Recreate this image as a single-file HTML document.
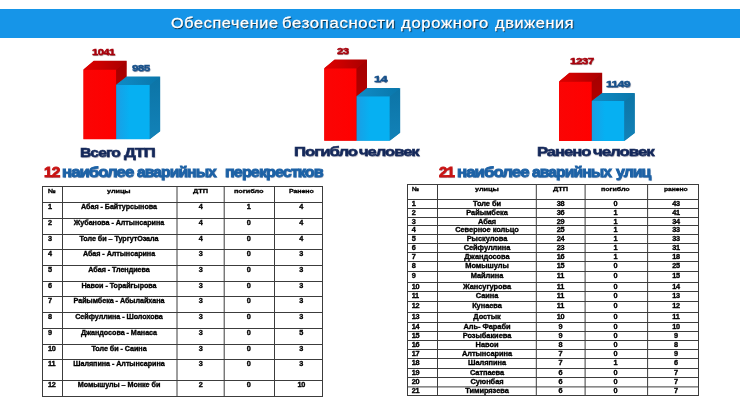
<!DOCTYPE html>
<html lang="ru"><head><meta charset="utf-8"><title>Обеспечение безопасности дорожного движения</title>
<style>
html,body{margin:0;padding:0;background:#fff;}
body{width:740px;height:416px;position:relative;overflow:hidden;font-family:"Liberation Sans",sans-serif;}
.abs{position:absolute;}
.t{position:absolute;line-height:1;white-space:nowrap;filter:blur(0.3px);}
svg{filter:blur(0.3px);}
.c{letter-spacing:-0.05px;}
.n{letter-spacing:-0.3px;}
</style></head><body>
<div class="abs" style="left:0;top:9px;width:740px;height:29.2px;background:#1695e8"></div>
<div class="t " style="left:171.41px;top:15.00px;font-size:15px;color:#fff;font-weight:normal;letter-spacing:0.6px;text-shadow:0.8px 1px 1px rgba(0,0,0,.8);-webkit-text-stroke:0.3px #fff;transform:scaleX(1.0794);transform-origin:left top;">Обеспечение</div>
<div class="t " style="left:282.48px;top:15.00px;font-size:15px;color:#fff;font-weight:normal;letter-spacing:0.6px;text-shadow:0.8px 1px 1px rgba(0,0,0,.8);-webkit-text-stroke:0.3px #fff;transform:scaleX(1.1136);transform-origin:left top;">безопасности</div>
<div class="t " style="left:400.86px;top:15.00px;font-size:15px;color:#fff;font-weight:normal;letter-spacing:0.6px;text-shadow:0.8px 1px 1px rgba(0,0,0,.8);-webkit-text-stroke:0.3px #fff;transform:scaleX(1.1098);transform-origin:left top;">дорожного</div>
<div class="t " style="left:494.95px;top:15.00px;font-size:15px;color:#fff;font-weight:normal;letter-spacing:0.6px;text-shadow:0.8px 1px 1px rgba(0,0,0,.8);-webkit-text-stroke:0.3px #fff;transform:scaleX(1.0846);transform-origin:left top;">движения</div>
<svg class="abs" width="740" height="416" viewBox="0 0 740 416" style="left:0;top:0"><defs><linearGradient id="rt" x1="0" y1="0" x2="1" y2="0"><stop offset="0" stop-color="#e00000"/><stop offset="1" stop-color="#a80000"/></linearGradient><linearGradient id="rs" x1="0" y1="0" x2="0" y2="1"><stop offset="0" stop-color="#a40000"/><stop offset="1" stop-color="#c40000"/></linearGradient><linearGradient id="rf" x1="0" y1="0" x2="1" y2="0"><stop offset="0" stop-color="#fa0505"/><stop offset="1" stop-color="#ff0000"/></linearGradient><linearGradient id="bt" x1="0" y1="0" x2="1" y2="0"><stop offset="0" stop-color="#0f8cc6"/><stop offset="1" stop-color="#0a76aa"/></linearGradient><linearGradient id="bs" x1="0" y1="0" x2="0" y2="1"><stop offset="0" stop-color="#0c74a6"/><stop offset="1" stop-color="#1282b8"/></linearGradient><linearGradient id="bf" x1="0" y1="0" x2="1" y2="0"><stop offset="0" stop-color="#1a9ee4"/><stop offset="0.4" stop-color="#06b0f2"/><stop offset="1" stop-color="#06b0f2"/></linearGradient></defs><polygon points="83.7,139.0 83.7,69.5 93.80000000000001,61.099999999999994 126.30000000000001,61.099999999999994 126.30000000000001,130.60000000000002 116.2,139.0" fill="#c00000"/><polygon points="83.4,69.5 116.2,69.5 116.2,139.3 83.4,139.3" fill="url(#rf)"/><polygon points="116.2,69.5 126.60000000000001,60.8 126.60000000000001,130.60000000000002 116.2,139.3" fill="url(#rs)"/><polygon points="83.4,69.5 93.80000000000001,60.8 126.60000000000001,60.8 116.2,69.5" fill="url(#rt)"/><polygon points="116.5,139.0 116.5,84.7 126.60000000000001,76.9 159.9,76.9 159.9,131.20000000000002 149.8,139.0" fill="#0e7cb0"/><polygon points="116.2,84.7 149.8,84.7 149.8,139.3 116.2,139.3" fill="url(#bf)"/><polygon points="149.8,84.7 160.20000000000002,76.60000000000001 160.20000000000002,131.20000000000002 149.8,139.3" fill="url(#bs)"/><polygon points="116.2,84.7 126.60000000000001,76.60000000000001 160.20000000000002,76.60000000000001 149.8,84.7" fill="url(#bt)"/><polygon points="324.5,140.5 324.5,68.3 334.59999999999997,59.89999999999999 366.7,59.89999999999999 366.7,132.10000000000002 356.6,140.5" fill="#c00000"/><polygon points="324.2,68.3 356.6,68.3 356.6,140.8 324.2,140.8" fill="url(#rf)"/><polygon points="356.6,68.3 367.0,59.599999999999994 367.0,132.10000000000002 356.6,140.8" fill="url(#rs)"/><polygon points="324.2,68.3 334.59999999999997,59.599999999999994 367.0,59.599999999999994 356.6,68.3" fill="url(#rt)"/><polygon points="356.90000000000003,140.5 356.90000000000003,96.2 367.0,88.4 399.9,88.4 399.9,132.70000000000002 389.8,140.5" fill="#0e7cb0"/><polygon points="356.6,96.2 389.8,96.2 389.8,140.8 356.6,140.8" fill="url(#bf)"/><polygon points="389.8,96.2 400.2,88.10000000000001 400.2,132.70000000000002 389.8,140.8" fill="url(#bs)"/><polygon points="356.6,96.2 367.0,88.10000000000001 400.2,88.10000000000001 389.8,96.2" fill="url(#bt)"/><polygon points="559.3,140.7 559.3,81.5 569.4,73.1 601.9,73.1 601.9,132.3 591.8,140.7" fill="#c00000"/><polygon points="559,81.5 591.8,81.5 591.8,141 559,141" fill="url(#rf)"/><polygon points="591.8,81.5 602.1999999999999,72.8 602.1999999999999,132.3 591.8,141" fill="url(#rs)"/><polygon points="559,81.5 569.4,72.8 602.1999999999999,72.8 591.8,81.5" fill="url(#rt)"/><polygon points="592.0999999999999,140.7 592.0999999999999,101.0 602.1999999999999,93.2 634.5,93.2 634.5,132.9 624.4,140.7" fill="#0e7cb0"/><polygon points="591.8,101.0 624.4,101.0 624.4,141 591.8,141" fill="url(#bf)"/><polygon points="624.4,101.0 634.8,92.9 634.8,132.9 624.4,141" fill="url(#bs)"/><polygon points="591.8,101.0 602.1999999999999,92.9 634.8,92.9 624.4,101.0" fill="url(#bt)"/></svg>
<div class="t " style="left:91.87px;top:47.00px;font-size:9.4px;color:#a8000c;font-weight:bold;letter-spacing:-0.5px;text-shadow:0.5px 0.5px 0.7px rgba(60,0,0,.55);-webkit-text-stroke:0.45px #a8000c;transform:scaleX(1.2021);transform-origin:left top;">1041</div>
<div class="t " style="left:131.51px;top:63.00px;font-size:9.4px;color:#16508a;font-weight:bold;letter-spacing:-0.5px;text-shadow:0.5px 0.5px 0.7px rgba(0,20,60,.55);-webkit-text-stroke:0.45px #16508a;transform:scaleX(1.2461);transform-origin:left top;">985</div>
<div class="t " style="left:337.11px;top:46.00px;font-size:9.4px;color:#a8000c;font-weight:bold;letter-spacing:-0.5px;text-shadow:0.5px 0.5px 0.7px rgba(60,0,0,.55);-webkit-text-stroke:0.45px #a8000c;transform:scaleX(1.217);transform-origin:left top;">23</div>
<div class="t " style="left:374.13px;top:74.00px;font-size:9.4px;color:#16508a;font-weight:bold;letter-spacing:-0.5px;text-shadow:0.5px 0.5px 0.7px rgba(0,20,60,.55);-webkit-text-stroke:0.45px #16508a;transform:scaleX(1.3566);transform-origin:left top;">14</div>
<div class="t " style="left:570.36px;top:56.00px;font-size:9.4px;color:#a8000c;font-weight:bold;letter-spacing:-0.5px;text-shadow:0.5px 0.5px 0.7px rgba(60,0,0,.55);-webkit-text-stroke:0.45px #a8000c;transform:scaleX(1.2504);transform-origin:left top;">1237</div>
<div class="t " style="left:605.64px;top:79.00px;font-size:9.4px;color:#16508a;font-weight:bold;letter-spacing:-0.5px;text-shadow:0.5px 0.5px 0.7px rgba(0,20,60,.55);-webkit-text-stroke:0.45px #16508a;transform:scaleX(1.3017);transform-origin:left top;">1149</div>
<div class="t " style="left:79.90px;top:146.00px;font-size:13.5px;color:#14285a;font-weight:bold;letter-spacing:-0.8px;text-shadow:0.5px 0.8px 0.8px rgba(0,0,40,.35);-webkit-text-stroke:0.6px #14285a;transform:scaleX(1.1591);transform-origin:left top;">Всего</div>
<div class="t " style="left:124.14px;top:146.00px;font-size:13.5px;color:#14285a;font-weight:bold;letter-spacing:-0.8px;text-shadow:0.5px 0.8px 0.8px rgba(0,0,40,.35);-webkit-text-stroke:0.6px #14285a;transform:scaleX(1.2205);transform-origin:left top;">ДТП</div>
<div class="t " style="left:293.56px;top:145.00px;font-size:13.5px;color:#14285a;font-weight:bold;letter-spacing:-0.8px;text-shadow:0.5px 0.8px 0.8px rgba(0,0,40,.35);-webkit-text-stroke:0.6px #14285a;transform:scaleX(1.2379);transform-origin:left top;">Погибло</div>
<div class="t " style="left:359.16px;top:145.00px;font-size:13.5px;color:#14285a;font-weight:bold;letter-spacing:-0.8px;text-shadow:0.5px 0.8px 0.8px rgba(0,0,40,.35);-webkit-text-stroke:0.6px #14285a;transform:scaleX(1.2229);transform-origin:left top;">человек</div>
<div class="t " style="left:536.77px;top:145.00px;font-size:13.5px;color:#14285a;font-weight:bold;letter-spacing:-0.8px;text-shadow:0.5px 0.8px 0.8px rgba(0,0,40,.35);-webkit-text-stroke:0.6px #14285a;transform:scaleX(1.2233);transform-origin:left top;">Ранено</div>
<div class="t " style="left:592.75px;top:145.00px;font-size:13.5px;color:#14285a;font-weight:bold;letter-spacing:-0.8px;text-shadow:0.5px 0.8px 0.8px rgba(0,0,40,.35);-webkit-text-stroke:0.6px #14285a;transform:scaleX(1.243);transform-origin:left top;">человек</div>
<div class="t " style="left:43.92px;top:165.00px;font-size:14px;color:#c81414;font-weight:bold;letter-spacing:-0.8px;text-shadow:0.5px 0.7px 0.8px rgba(0,20,60,.35);-webkit-text-stroke:0.9px #c81414;transform:scaleX(1.0983);transform-origin:left top;">12</div>
<div class="t " style="left:62.26px;top:165.00px;font-size:14px;color:#1d62a6;font-weight:bold;letter-spacing:-0.8px;text-shadow:0.5px 0.7px 0.8px rgba(0,20,60,.35);-webkit-text-stroke:0.9px #1d62a6;transform:scaleX(1.1968);transform-origin:left top;">наиболее</div>
<div class="t " style="left:136.96px;top:165.00px;font-size:14px;color:#1d62a6;font-weight:bold;letter-spacing:-0.8px;text-shadow:0.5px 0.7px 0.8px rgba(0,20,60,.35);-webkit-text-stroke:0.9px #1d62a6;transform:scaleX(1.1143);transform-origin:left top;">аварийных</div>
<div class="t " style="left:225.28px;top:165.00px;font-size:14px;color:#1d62a6;font-weight:bold;letter-spacing:-0.8px;text-shadow:0.5px 0.7px 0.8px rgba(0,20,60,.35);-webkit-text-stroke:0.9px #1d62a6;transform:scaleX(1.1533);transform-origin:left top;">перекрестков</div>
<div class="t " style="left:438.65px;top:165.00px;font-size:14px;color:#c81414;font-weight:bold;letter-spacing:-0.8px;text-shadow:0.5px 0.7px 0.8px rgba(0,20,60,.35);-webkit-text-stroke:0.9px #c81414;transform:scaleX(1.0748);transform-origin:left top;">21</div>
<div class="t " style="left:457.36px;top:165.00px;font-size:14px;color:#1d62a6;font-weight:bold;letter-spacing:-0.8px;text-shadow:0.5px 0.7px 0.8px rgba(0,20,60,.35);-webkit-text-stroke:0.9px #1d62a6;transform:scaleX(1.2018);transform-origin:left top;">наиболее</div>
<div class="t " style="left:532.26px;top:165.00px;font-size:14px;color:#1d62a6;font-weight:bold;letter-spacing:-0.8px;text-shadow:0.5px 0.7px 0.8px rgba(0,20,60,.35);-webkit-text-stroke:0.9px #1d62a6;transform:scaleX(1.1171);transform-origin:left top;">аварийных</div>
<div class="t " style="left:615.79px;top:165.00px;font-size:14px;color:#1d62a6;font-weight:bold;letter-spacing:-0.8px;text-shadow:0.5px 0.7px 0.8px rgba(0,20,60,.35);-webkit-text-stroke:0.9px #1d62a6;transform:scaleX(1.1281);transform-origin:left top;">улиц</div>
<svg class="abs" width="740" height="416" viewBox="0 0 740 416" style="left:0;top:0" stroke="#3c3c3c" stroke-width="1"><line x1="42.0" y1="186.5" x2="323.0" y2="186.5"/><line x1="42.0" y1="202.5" x2="323.0" y2="202.5"/><line x1="42.0" y1="218.5" x2="323.0" y2="218.5"/><line x1="42.0" y1="234.5" x2="323.0" y2="234.5"/><line x1="42.0" y1="249.5" x2="323.0" y2="249.5"/><line x1="42.0" y1="265.5" x2="323.0" y2="265.5"/><line x1="42.0" y1="281.5" x2="323.0" y2="281.5"/><line x1="42.0" y1="296.5" x2="323.0" y2="296.5"/><line x1="42.0" y1="312.5" x2="323.0" y2="312.5"/><line x1="42.0" y1="328.5" x2="323.0" y2="328.5"/><line x1="42.0" y1="344.5" x2="323.0" y2="344.5"/><line x1="42.0" y1="359.5" x2="323.0" y2="359.5"/><line x1="42.0" y1="380.5" x2="323.0" y2="380.5"/><line x1="42.0" y1="396.5" x2="323.0" y2="396.5"/><line x1="42.5" y1="186.5" x2="42.5" y2="396.5"/><line x1="62.5" y1="186.5" x2="62.5" y2="396.5"/><line x1="177.0" y1="186.5" x2="177.0" y2="396.5"/><line x1="224.2" y1="186.5" x2="224.2" y2="396.5"/><line x1="274.5" y1="186.5" x2="274.5" y2="396.5"/><line x1="322.5" y1="186.5" x2="322.5" y2="396.5"/></svg>
<div class="t c" style="left:47.60px;top:188.00px;font-size:6.0px;color:#000;font-weight:bold;-webkit-text-stroke:0.3px #000;transform:scaleX(1.2063);transform-origin:left top;">№</div>
<div class="t c" style="left:107.08px;top:188.00px;font-size:6.0px;color:#000;font-weight:bold;-webkit-text-stroke:0.3px #000;transform:scaleX(1.2176);transform-origin:left top;">улицы</div>
<div class="t c" style="left:192.89px;top:188.00px;font-size:6.0px;color:#000;font-weight:bold;-webkit-text-stroke:0.3px #000;transform:scaleX(1.2337);transform-origin:left top;">ДТП</div>
<div class="t c" style="left:233.59px;top:188.00px;font-size:6.0px;color:#000;font-weight:bold;-webkit-text-stroke:0.3px #000;transform:scaleX(1.2207);transform-origin:left top;">погибло</div>
<div class="t c" style="left:288.61px;top:188.00px;font-size:6.0px;color:#000;font-weight:bold;-webkit-text-stroke:0.3px #000;transform:scaleX(1.1626);transform-origin:left top;">Ранено</div>
<div class="t n" style="left:48.10px;top:203.00px;font-size:7.3px;color:#000;font-weight:bold;-webkit-text-stroke:0.35px #000;">1</div>
<div class="t c" style="left:58.80px;top:203.00px;font-size:7.3px;color:#000;font-weight:bold;width:120.00px;text-align:center;-webkit-text-stroke:0.35px #000;transform:scaleX(0.985);transform-origin:center top;">Абая - Байтурсынова</div>
<div class="t n" style="left:140.60px;top:203.00px;font-size:7.3px;color:#000;font-weight:bold;width:120.00px;text-align:center;-webkit-text-stroke:0.35px #000;">4</div>
<div class="t n" style="left:188.60px;top:203.00px;font-size:7.3px;color:#000;font-weight:bold;width:120.00px;text-align:center;-webkit-text-stroke:0.35px #000;">1</div>
<div class="t n" style="left:241.20px;top:203.00px;font-size:7.3px;color:#000;font-weight:bold;width:120.00px;text-align:center;-webkit-text-stroke:0.35px #000;">4</div>
<div class="t n" style="left:48.10px;top:219.00px;font-size:7.3px;color:#000;font-weight:bold;-webkit-text-stroke:0.35px #000;">2</div>
<div class="t c" style="left:58.80px;top:219.00px;font-size:7.3px;color:#000;font-weight:bold;width:120.00px;text-align:center;-webkit-text-stroke:0.35px #000;transform:scaleX(0.985);transform-origin:center top;">Жубанова - Алтынсарина</div>
<div class="t n" style="left:140.60px;top:219.00px;font-size:7.3px;color:#000;font-weight:bold;width:120.00px;text-align:center;-webkit-text-stroke:0.35px #000;">4</div>
<div class="t n" style="left:188.60px;top:219.00px;font-size:7.3px;color:#000;font-weight:bold;width:120.00px;text-align:center;-webkit-text-stroke:0.35px #000;">0</div>
<div class="t n" style="left:241.20px;top:219.00px;font-size:7.3px;color:#000;font-weight:bold;width:120.00px;text-align:center;-webkit-text-stroke:0.35px #000;">4</div>
<div class="t n" style="left:48.10px;top:235.00px;font-size:7.3px;color:#000;font-weight:bold;-webkit-text-stroke:0.35px #000;">3</div>
<div class="t c" style="left:58.80px;top:235.00px;font-size:7.3px;color:#000;font-weight:bold;width:120.00px;text-align:center;-webkit-text-stroke:0.35px #000;transform:scaleX(0.985);transform-origin:center top;">Толе би – ТургутОзала</div>
<div class="t n" style="left:140.60px;top:235.00px;font-size:7.3px;color:#000;font-weight:bold;width:120.00px;text-align:center;-webkit-text-stroke:0.35px #000;">4</div>
<div class="t n" style="left:188.60px;top:235.00px;font-size:7.3px;color:#000;font-weight:bold;width:120.00px;text-align:center;-webkit-text-stroke:0.35px #000;">0</div>
<div class="t n" style="left:241.20px;top:235.00px;font-size:7.3px;color:#000;font-weight:bold;width:120.00px;text-align:center;-webkit-text-stroke:0.35px #000;">4</div>
<div class="t n" style="left:48.10px;top:250.00px;font-size:7.3px;color:#000;font-weight:bold;-webkit-text-stroke:0.35px #000;">4</div>
<div class="t c" style="left:58.80px;top:250.00px;font-size:7.3px;color:#000;font-weight:bold;width:120.00px;text-align:center;-webkit-text-stroke:0.35px #000;transform:scaleX(0.985);transform-origin:center top;">Абая - Алтынсарина</div>
<div class="t n" style="left:140.60px;top:250.00px;font-size:7.3px;color:#000;font-weight:bold;width:120.00px;text-align:center;-webkit-text-stroke:0.35px #000;">3</div>
<div class="t n" style="left:188.60px;top:250.00px;font-size:7.3px;color:#000;font-weight:bold;width:120.00px;text-align:center;-webkit-text-stroke:0.35px #000;">0</div>
<div class="t n" style="left:241.20px;top:250.00px;font-size:7.3px;color:#000;font-weight:bold;width:120.00px;text-align:center;-webkit-text-stroke:0.35px #000;">3</div>
<div class="t n" style="left:48.10px;top:266.00px;font-size:7.3px;color:#000;font-weight:bold;-webkit-text-stroke:0.35px #000;">5</div>
<div class="t c" style="left:58.80px;top:266.00px;font-size:7.3px;color:#000;font-weight:bold;width:120.00px;text-align:center;-webkit-text-stroke:0.35px #000;transform:scaleX(0.985);transform-origin:center top;">Абая - Тлендиева</div>
<div class="t n" style="left:140.60px;top:266.00px;font-size:7.3px;color:#000;font-weight:bold;width:120.00px;text-align:center;-webkit-text-stroke:0.35px #000;">3</div>
<div class="t n" style="left:188.60px;top:266.00px;font-size:7.3px;color:#000;font-weight:bold;width:120.00px;text-align:center;-webkit-text-stroke:0.35px #000;">0</div>
<div class="t n" style="left:241.20px;top:266.00px;font-size:7.3px;color:#000;font-weight:bold;width:120.00px;text-align:center;-webkit-text-stroke:0.35px #000;">3</div>
<div class="t n" style="left:48.10px;top:282.00px;font-size:7.3px;color:#000;font-weight:bold;-webkit-text-stroke:0.35px #000;">6</div>
<div class="t c" style="left:58.80px;top:282.00px;font-size:7.3px;color:#000;font-weight:bold;width:120.00px;text-align:center;-webkit-text-stroke:0.35px #000;transform:scaleX(0.985);transform-origin:center top;">Навои - Торайгырова</div>
<div class="t n" style="left:140.60px;top:282.00px;font-size:7.3px;color:#000;font-weight:bold;width:120.00px;text-align:center;-webkit-text-stroke:0.35px #000;">3</div>
<div class="t n" style="left:188.60px;top:282.00px;font-size:7.3px;color:#000;font-weight:bold;width:120.00px;text-align:center;-webkit-text-stroke:0.35px #000;">0</div>
<div class="t n" style="left:241.20px;top:282.00px;font-size:7.3px;color:#000;font-weight:bold;width:120.00px;text-align:center;-webkit-text-stroke:0.35px #000;">3</div>
<div class="t n" style="left:48.10px;top:297.00px;font-size:7.3px;color:#000;font-weight:bold;-webkit-text-stroke:0.35px #000;">7</div>
<div class="t c" style="left:58.80px;top:297.00px;font-size:7.3px;color:#000;font-weight:bold;width:120.00px;text-align:center;-webkit-text-stroke:0.35px #000;transform:scaleX(0.985);transform-origin:center top;">Райымбека - Абылайхана</div>
<div class="t n" style="left:140.60px;top:297.00px;font-size:7.3px;color:#000;font-weight:bold;width:120.00px;text-align:center;-webkit-text-stroke:0.35px #000;">3</div>
<div class="t n" style="left:188.60px;top:297.00px;font-size:7.3px;color:#000;font-weight:bold;width:120.00px;text-align:center;-webkit-text-stroke:0.35px #000;">0</div>
<div class="t n" style="left:241.20px;top:297.00px;font-size:7.3px;color:#000;font-weight:bold;width:120.00px;text-align:center;-webkit-text-stroke:0.35px #000;">3</div>
<div class="t n" style="left:48.10px;top:313.00px;font-size:7.3px;color:#000;font-weight:bold;-webkit-text-stroke:0.35px #000;">8</div>
<div class="t c" style="left:58.80px;top:313.00px;font-size:7.3px;color:#000;font-weight:bold;width:120.00px;text-align:center;-webkit-text-stroke:0.35px #000;transform:scaleX(0.985);transform-origin:center top;">Сейфуллина - Шолохова</div>
<div class="t n" style="left:140.60px;top:313.00px;font-size:7.3px;color:#000;font-weight:bold;width:120.00px;text-align:center;-webkit-text-stroke:0.35px #000;">3</div>
<div class="t n" style="left:188.60px;top:313.00px;font-size:7.3px;color:#000;font-weight:bold;width:120.00px;text-align:center;-webkit-text-stroke:0.35px #000;">0</div>
<div class="t n" style="left:241.20px;top:313.00px;font-size:7.3px;color:#000;font-weight:bold;width:120.00px;text-align:center;-webkit-text-stroke:0.35px #000;">3</div>
<div class="t n" style="left:48.10px;top:329.00px;font-size:7.3px;color:#000;font-weight:bold;-webkit-text-stroke:0.35px #000;">9</div>
<div class="t c" style="left:58.80px;top:329.00px;font-size:7.3px;color:#000;font-weight:bold;width:120.00px;text-align:center;-webkit-text-stroke:0.35px #000;transform:scaleX(0.985);transform-origin:center top;">Джандосова - Манаса</div>
<div class="t n" style="left:140.60px;top:329.00px;font-size:7.3px;color:#000;font-weight:bold;width:120.00px;text-align:center;-webkit-text-stroke:0.35px #000;">3</div>
<div class="t n" style="left:188.60px;top:329.00px;font-size:7.3px;color:#000;font-weight:bold;width:120.00px;text-align:center;-webkit-text-stroke:0.35px #000;">0</div>
<div class="t n" style="left:241.20px;top:329.00px;font-size:7.3px;color:#000;font-weight:bold;width:120.00px;text-align:center;-webkit-text-stroke:0.35px #000;">5</div>
<div class="t n" style="left:48.10px;top:345.00px;font-size:7.3px;color:#000;font-weight:bold;-webkit-text-stroke:0.35px #000;">10</div>
<div class="t c" style="left:58.80px;top:345.00px;font-size:7.3px;color:#000;font-weight:bold;width:120.00px;text-align:center;-webkit-text-stroke:0.35px #000;transform:scaleX(0.985);transform-origin:center top;">Толе би - Саина</div>
<div class="t n" style="left:140.60px;top:345.00px;font-size:7.3px;color:#000;font-weight:bold;width:120.00px;text-align:center;-webkit-text-stroke:0.35px #000;">3</div>
<div class="t n" style="left:188.60px;top:345.00px;font-size:7.3px;color:#000;font-weight:bold;width:120.00px;text-align:center;-webkit-text-stroke:0.35px #000;">0</div>
<div class="t n" style="left:241.20px;top:345.00px;font-size:7.3px;color:#000;font-weight:bold;width:120.00px;text-align:center;-webkit-text-stroke:0.35px #000;">3</div>
<div class="t n" style="left:48.10px;top:360.00px;font-size:7.3px;color:#000;font-weight:bold;-webkit-text-stroke:0.35px #000;">11</div>
<div class="t c" style="left:58.80px;top:360.00px;font-size:7.3px;color:#000;font-weight:bold;width:120.00px;text-align:center;-webkit-text-stroke:0.35px #000;transform:scaleX(0.985);transform-origin:center top;">Шаляпина  - Алтынсарина</div>
<div class="t n" style="left:140.60px;top:360.00px;font-size:7.3px;color:#000;font-weight:bold;width:120.00px;text-align:center;-webkit-text-stroke:0.35px #000;">3</div>
<div class="t n" style="left:188.60px;top:360.00px;font-size:7.3px;color:#000;font-weight:bold;width:120.00px;text-align:center;-webkit-text-stroke:0.35px #000;">0</div>
<div class="t n" style="left:241.20px;top:360.00px;font-size:7.3px;color:#000;font-weight:bold;width:120.00px;text-align:center;-webkit-text-stroke:0.35px #000;">3</div>
<div class="t n" style="left:48.10px;top:381.00px;font-size:7.3px;color:#000;font-weight:bold;-webkit-text-stroke:0.35px #000;">12</div>
<div class="t c" style="left:58.80px;top:381.00px;font-size:7.3px;color:#000;font-weight:bold;width:120.00px;text-align:center;-webkit-text-stroke:0.35px #000;transform:scaleX(0.985);transform-origin:center top;">Момышулы – Монке би</div>
<div class="t n" style="left:140.60px;top:381.00px;font-size:7.3px;color:#000;font-weight:bold;width:120.00px;text-align:center;-webkit-text-stroke:0.35px #000;">2</div>
<div class="t n" style="left:188.60px;top:381.00px;font-size:7.3px;color:#000;font-weight:bold;width:120.00px;text-align:center;-webkit-text-stroke:0.35px #000;">0</div>
<div class="t n" style="left:241.20px;top:381.00px;font-size:7.3px;color:#000;font-weight:bold;width:120.00px;text-align:center;-webkit-text-stroke:0.35px #000;">10</div>
<svg class="abs" width="740" height="416" viewBox="0 0 740 416" style="left:0;top:0" stroke="#3c3c3c" stroke-width="1"><line x1="407.0" y1="184.5" x2="699.0" y2="184.5"/><line x1="407.0" y1="199.5" x2="699.0" y2="199.5"/><line x1="407.0" y1="208.5" x2="699.0" y2="208.5"/><line x1="407.0" y1="217.5" x2="699.0" y2="217.5"/><line x1="407.0" y1="225.5" x2="699.0" y2="225.5"/><line x1="407.0" y1="234.5" x2="699.0" y2="234.5"/><line x1="407.0" y1="243.5" x2="699.0" y2="243.5"/><line x1="407.0" y1="252.5" x2="699.0" y2="252.5"/><line x1="407.0" y1="261.5" x2="699.0" y2="261.5"/><line x1="407.0" y1="271.5" x2="699.0" y2="271.5"/><line x1="407.0" y1="282.5" x2="699.0" y2="282.5"/><line x1="407.0" y1="291.5" x2="699.0" y2="291.5"/><line x1="407.0" y1="301.5" x2="699.0" y2="301.5"/><line x1="407.0" y1="312.5" x2="699.0" y2="312.5"/><line x1="407.0" y1="322.5" x2="699.0" y2="322.5"/><line x1="407.0" y1="331.5" x2="699.0" y2="331.5"/><line x1="407.0" y1="340.5" x2="699.0" y2="340.5"/><line x1="407.0" y1="349.5" x2="699.0" y2="349.5"/><line x1="407.0" y1="358.5" x2="699.0" y2="358.5"/><line x1="407.0" y1="368.5" x2="699.0" y2="368.5"/><line x1="407.0" y1="377.5" x2="699.0" y2="377.5"/><line x1="407.0" y1="386.9" x2="699.0" y2="386.9"/><line x1="407.0" y1="395.5" x2="699.0" y2="395.5"/><line x1="407.5" y1="184.5" x2="407.5" y2="395.5"/><line x1="437.5" y1="184.5" x2="437.5" y2="395.5"/><line x1="536.3" y1="184.5" x2="536.3" y2="395.5"/><line x1="585.1" y1="184.5" x2="585.1" y2="395.5"/><line x1="647.6" y1="184.5" x2="647.6" y2="395.5"/><line x1="698.5" y1="184.5" x2="698.5" y2="395.5"/></svg>
<div class="t c" style="left:411.63px;top:186.00px;font-size:6.0px;color:#000;font-weight:bold;-webkit-text-stroke:0.3px #000;transform:scaleX(1.0952);transform-origin:left top;">№</div>
<div class="t c" style="left:474.68px;top:186.00px;font-size:6.0px;color:#000;font-weight:bold;-webkit-text-stroke:0.3px #000;transform:scaleX(1.233);transform-origin:left top;">улицы</div>
<div class="t c" style="left:553.09px;top:186.00px;font-size:6.0px;color:#000;font-weight:bold;-webkit-text-stroke:0.3px #000;transform:scaleX(1.2337);transform-origin:left top;">ДТП</div>
<div class="t c" style="left:600.50px;top:186.00px;font-size:6.0px;color:#000;font-weight:bold;-webkit-text-stroke:0.3px #000;transform:scaleX(1.1876);transform-origin:left top;">погибло</div>
<div class="t c" style="left:663.83px;top:186.00px;font-size:6.0px;color:#000;font-weight:bold;-webkit-text-stroke:0.3px #000;transform:scaleX(1.1287);transform-origin:left top;">ранено</div>
<div class="t n" style="left:411.70px;top:200.00px;font-size:7.3px;color:#000;font-weight:bold;-webkit-text-stroke:0.35px #000;">1</div>
<div class="t c" style="left:426.90px;top:200.00px;font-size:7.3px;color:#000;font-weight:bold;width:120.00px;text-align:center;-webkit-text-stroke:0.35px #000;transform:scaleX(1.02);transform-origin:center top;">Толе би</div>
<div class="t n" style="left:500.40px;top:200.00px;font-size:7.3px;color:#000;font-weight:bold;width:120.00px;text-align:center;-webkit-text-stroke:0.35px #000;">38</div>
<div class="t n" style="left:555.30px;top:200.00px;font-size:7.3px;color:#000;font-weight:bold;width:120.00px;text-align:center;-webkit-text-stroke:0.35px #000;">0</div>
<div class="t n" style="left:615.90px;top:200.00px;font-size:7.3px;color:#000;font-weight:bold;width:120.00px;text-align:center;-webkit-text-stroke:0.35px #000;">43</div>
<div class="t n" style="left:411.70px;top:209.00px;font-size:7.3px;color:#000;font-weight:bold;-webkit-text-stroke:0.35px #000;">2</div>
<div class="t c" style="left:426.90px;top:209.00px;font-size:7.3px;color:#000;font-weight:bold;width:120.00px;text-align:center;-webkit-text-stroke:0.35px #000;transform:scaleX(1.02);transform-origin:center top;">Райымбека</div>
<div class="t n" style="left:500.40px;top:209.00px;font-size:7.3px;color:#000;font-weight:bold;width:120.00px;text-align:center;-webkit-text-stroke:0.35px #000;">36</div>
<div class="t n" style="left:555.30px;top:209.00px;font-size:7.3px;color:#000;font-weight:bold;width:120.00px;text-align:center;-webkit-text-stroke:0.35px #000;">1</div>
<div class="t n" style="left:615.90px;top:209.00px;font-size:7.3px;color:#000;font-weight:bold;width:120.00px;text-align:center;-webkit-text-stroke:0.35px #000;">41</div>
<div class="t n" style="left:411.70px;top:218.00px;font-size:7.3px;color:#000;font-weight:bold;-webkit-text-stroke:0.35px #000;">3</div>
<div class="t c" style="left:426.90px;top:218.00px;font-size:7.3px;color:#000;font-weight:bold;width:120.00px;text-align:center;-webkit-text-stroke:0.35px #000;transform:scaleX(1.02);transform-origin:center top;">Абая</div>
<div class="t n" style="left:500.40px;top:218.00px;font-size:7.3px;color:#000;font-weight:bold;width:120.00px;text-align:center;-webkit-text-stroke:0.35px #000;">29</div>
<div class="t n" style="left:555.30px;top:218.00px;font-size:7.3px;color:#000;font-weight:bold;width:120.00px;text-align:center;-webkit-text-stroke:0.35px #000;">1</div>
<div class="t n" style="left:615.90px;top:218.00px;font-size:7.3px;color:#000;font-weight:bold;width:120.00px;text-align:center;-webkit-text-stroke:0.35px #000;">34</div>
<div class="t n" style="left:411.70px;top:226.00px;font-size:7.3px;color:#000;font-weight:bold;-webkit-text-stroke:0.35px #000;">4</div>
<div class="t c" style="left:426.90px;top:226.00px;font-size:7.3px;color:#000;font-weight:bold;width:120.00px;text-align:center;-webkit-text-stroke:0.35px #000;transform:scaleX(1.02);transform-origin:center top;">Северное кольцо</div>
<div class="t n" style="left:500.40px;top:226.00px;font-size:7.3px;color:#000;font-weight:bold;width:120.00px;text-align:center;-webkit-text-stroke:0.35px #000;">25</div>
<div class="t n" style="left:555.30px;top:226.00px;font-size:7.3px;color:#000;font-weight:bold;width:120.00px;text-align:center;-webkit-text-stroke:0.35px #000;">1</div>
<div class="t n" style="left:615.90px;top:226.00px;font-size:7.3px;color:#000;font-weight:bold;width:120.00px;text-align:center;-webkit-text-stroke:0.35px #000;">33</div>
<div class="t n" style="left:411.70px;top:235.00px;font-size:7.3px;color:#000;font-weight:bold;-webkit-text-stroke:0.35px #000;">5</div>
<div class="t c" style="left:426.90px;top:235.00px;font-size:7.3px;color:#000;font-weight:bold;width:120.00px;text-align:center;-webkit-text-stroke:0.35px #000;transform:scaleX(1.02);transform-origin:center top;">Рыскулова</div>
<div class="t n" style="left:500.40px;top:235.00px;font-size:7.3px;color:#000;font-weight:bold;width:120.00px;text-align:center;-webkit-text-stroke:0.35px #000;">24</div>
<div class="t n" style="left:555.30px;top:235.00px;font-size:7.3px;color:#000;font-weight:bold;width:120.00px;text-align:center;-webkit-text-stroke:0.35px #000;">1</div>
<div class="t n" style="left:615.90px;top:235.00px;font-size:7.3px;color:#000;font-weight:bold;width:120.00px;text-align:center;-webkit-text-stroke:0.35px #000;">33</div>
<div class="t n" style="left:411.70px;top:244.00px;font-size:7.3px;color:#000;font-weight:bold;-webkit-text-stroke:0.35px #000;">6</div>
<div class="t c" style="left:426.90px;top:244.00px;font-size:7.3px;color:#000;font-weight:bold;width:120.00px;text-align:center;-webkit-text-stroke:0.35px #000;transform:scaleX(1.02);transform-origin:center top;">Сейфуллина</div>
<div class="t n" style="left:500.40px;top:244.00px;font-size:7.3px;color:#000;font-weight:bold;width:120.00px;text-align:center;-webkit-text-stroke:0.35px #000;">23</div>
<div class="t n" style="left:555.30px;top:244.00px;font-size:7.3px;color:#000;font-weight:bold;width:120.00px;text-align:center;-webkit-text-stroke:0.35px #000;">1</div>
<div class="t n" style="left:615.90px;top:244.00px;font-size:7.3px;color:#000;font-weight:bold;width:120.00px;text-align:center;-webkit-text-stroke:0.35px #000;">31</div>
<div class="t n" style="left:411.70px;top:253.00px;font-size:7.3px;color:#000;font-weight:bold;-webkit-text-stroke:0.35px #000;">7</div>
<div class="t c" style="left:426.90px;top:253.00px;font-size:7.3px;color:#000;font-weight:bold;width:120.00px;text-align:center;-webkit-text-stroke:0.35px #000;transform:scaleX(1.02);transform-origin:center top;">Джандосова</div>
<div class="t n" style="left:500.40px;top:253.00px;font-size:7.3px;color:#000;font-weight:bold;width:120.00px;text-align:center;-webkit-text-stroke:0.35px #000;">16</div>
<div class="t n" style="left:555.30px;top:253.00px;font-size:7.3px;color:#000;font-weight:bold;width:120.00px;text-align:center;-webkit-text-stroke:0.35px #000;">1</div>
<div class="t n" style="left:615.90px;top:253.00px;font-size:7.3px;color:#000;font-weight:bold;width:120.00px;text-align:center;-webkit-text-stroke:0.35px #000;">18</div>
<div class="t n" style="left:411.70px;top:262.00px;font-size:7.3px;color:#000;font-weight:bold;-webkit-text-stroke:0.35px #000;">8</div>
<div class="t c" style="left:426.90px;top:262.00px;font-size:7.3px;color:#000;font-weight:bold;width:120.00px;text-align:center;-webkit-text-stroke:0.35px #000;transform:scaleX(1.02);transform-origin:center top;">Момышулы</div>
<div class="t n" style="left:500.40px;top:262.00px;font-size:7.3px;color:#000;font-weight:bold;width:120.00px;text-align:center;-webkit-text-stroke:0.35px #000;">15</div>
<div class="t n" style="left:555.30px;top:262.00px;font-size:7.3px;color:#000;font-weight:bold;width:120.00px;text-align:center;-webkit-text-stroke:0.35px #000;">0</div>
<div class="t n" style="left:615.90px;top:262.00px;font-size:7.3px;color:#000;font-weight:bold;width:120.00px;text-align:center;-webkit-text-stroke:0.35px #000;">25</div>
<div class="t n" style="left:411.70px;top:272.00px;font-size:7.3px;color:#000;font-weight:bold;-webkit-text-stroke:0.35px #000;">9</div>
<div class="t c" style="left:426.90px;top:272.00px;font-size:7.3px;color:#000;font-weight:bold;width:120.00px;text-align:center;-webkit-text-stroke:0.35px #000;transform:scaleX(1.02);transform-origin:center top;">Майлина</div>
<div class="t n" style="left:500.40px;top:272.00px;font-size:7.3px;color:#000;font-weight:bold;width:120.00px;text-align:center;-webkit-text-stroke:0.35px #000;">11</div>
<div class="t n" style="left:555.30px;top:272.00px;font-size:7.3px;color:#000;font-weight:bold;width:120.00px;text-align:center;-webkit-text-stroke:0.35px #000;">0</div>
<div class="t n" style="left:615.90px;top:272.00px;font-size:7.3px;color:#000;font-weight:bold;width:120.00px;text-align:center;-webkit-text-stroke:0.35px #000;">15</div>
<div class="t n" style="left:411.70px;top:283.00px;font-size:7.3px;color:#000;font-weight:bold;-webkit-text-stroke:0.35px #000;">10</div>
<div class="t c" style="left:426.90px;top:283.00px;font-size:7.3px;color:#000;font-weight:bold;width:120.00px;text-align:center;-webkit-text-stroke:0.35px #000;transform:scaleX(1.02);transform-origin:center top;">Жансугурова</div>
<div class="t n" style="left:500.40px;top:283.00px;font-size:7.3px;color:#000;font-weight:bold;width:120.00px;text-align:center;-webkit-text-stroke:0.35px #000;">11</div>
<div class="t n" style="left:555.30px;top:283.00px;font-size:7.3px;color:#000;font-weight:bold;width:120.00px;text-align:center;-webkit-text-stroke:0.35px #000;">0</div>
<div class="t n" style="left:615.90px;top:283.00px;font-size:7.3px;color:#000;font-weight:bold;width:120.00px;text-align:center;-webkit-text-stroke:0.35px #000;">14</div>
<div class="t n" style="left:411.70px;top:292.00px;font-size:7.3px;color:#000;font-weight:bold;-webkit-text-stroke:0.35px #000;">11</div>
<div class="t c" style="left:426.90px;top:292.00px;font-size:7.3px;color:#000;font-weight:bold;width:120.00px;text-align:center;-webkit-text-stroke:0.35px #000;transform:scaleX(1.02);transform-origin:center top;">Саина</div>
<div class="t n" style="left:500.40px;top:292.00px;font-size:7.3px;color:#000;font-weight:bold;width:120.00px;text-align:center;-webkit-text-stroke:0.35px #000;">11</div>
<div class="t n" style="left:555.30px;top:292.00px;font-size:7.3px;color:#000;font-weight:bold;width:120.00px;text-align:center;-webkit-text-stroke:0.35px #000;">0</div>
<div class="t n" style="left:615.90px;top:292.00px;font-size:7.3px;color:#000;font-weight:bold;width:120.00px;text-align:center;-webkit-text-stroke:0.35px #000;">13</div>
<div class="t n" style="left:411.70px;top:302.00px;font-size:7.3px;color:#000;font-weight:bold;-webkit-text-stroke:0.35px #000;">12</div>
<div class="t c" style="left:426.90px;top:302.00px;font-size:7.3px;color:#000;font-weight:bold;width:120.00px;text-align:center;-webkit-text-stroke:0.35px #000;transform:scaleX(1.02);transform-origin:center top;">Кунаева</div>
<div class="t n" style="left:500.40px;top:302.00px;font-size:7.3px;color:#000;font-weight:bold;width:120.00px;text-align:center;-webkit-text-stroke:0.35px #000;">11</div>
<div class="t n" style="left:555.30px;top:302.00px;font-size:7.3px;color:#000;font-weight:bold;width:120.00px;text-align:center;-webkit-text-stroke:0.35px #000;">0</div>
<div class="t n" style="left:615.90px;top:302.00px;font-size:7.3px;color:#000;font-weight:bold;width:120.00px;text-align:center;-webkit-text-stroke:0.35px #000;">12</div>
<div class="t n" style="left:411.70px;top:313.00px;font-size:7.3px;color:#000;font-weight:bold;-webkit-text-stroke:0.35px #000;">13</div>
<div class="t c" style="left:426.90px;top:313.00px;font-size:7.3px;color:#000;font-weight:bold;width:120.00px;text-align:center;-webkit-text-stroke:0.35px #000;transform:scaleX(1.02);transform-origin:center top;">Достык</div>
<div class="t n" style="left:500.40px;top:313.00px;font-size:7.3px;color:#000;font-weight:bold;width:120.00px;text-align:center;-webkit-text-stroke:0.35px #000;">10</div>
<div class="t n" style="left:555.30px;top:313.00px;font-size:7.3px;color:#000;font-weight:bold;width:120.00px;text-align:center;-webkit-text-stroke:0.35px #000;">0</div>
<div class="t n" style="left:615.90px;top:313.00px;font-size:7.3px;color:#000;font-weight:bold;width:120.00px;text-align:center;-webkit-text-stroke:0.35px #000;">11</div>
<div class="t n" style="left:411.70px;top:323.00px;font-size:7.3px;color:#000;font-weight:bold;-webkit-text-stroke:0.35px #000;">14</div>
<div class="t c" style="left:426.90px;top:323.00px;font-size:7.3px;color:#000;font-weight:bold;width:120.00px;text-align:center;-webkit-text-stroke:0.35px #000;transform:scaleX(1.02);transform-origin:center top;">Аль- Фараби</div>
<div class="t n" style="left:500.40px;top:323.00px;font-size:7.3px;color:#000;font-weight:bold;width:120.00px;text-align:center;-webkit-text-stroke:0.35px #000;">9</div>
<div class="t n" style="left:555.30px;top:323.00px;font-size:7.3px;color:#000;font-weight:bold;width:120.00px;text-align:center;-webkit-text-stroke:0.35px #000;">0</div>
<div class="t n" style="left:615.90px;top:323.00px;font-size:7.3px;color:#000;font-weight:bold;width:120.00px;text-align:center;-webkit-text-stroke:0.35px #000;">10</div>
<div class="t n" style="left:411.70px;top:332.00px;font-size:7.3px;color:#000;font-weight:bold;-webkit-text-stroke:0.35px #000;">15</div>
<div class="t c" style="left:426.90px;top:332.00px;font-size:7.3px;color:#000;font-weight:bold;width:120.00px;text-align:center;-webkit-text-stroke:0.35px #000;transform:scaleX(1.02);transform-origin:center top;">Розыбакиева</div>
<div class="t n" style="left:500.40px;top:332.00px;font-size:7.3px;color:#000;font-weight:bold;width:120.00px;text-align:center;-webkit-text-stroke:0.35px #000;">9</div>
<div class="t n" style="left:555.30px;top:332.00px;font-size:7.3px;color:#000;font-weight:bold;width:120.00px;text-align:center;-webkit-text-stroke:0.35px #000;">0</div>
<div class="t n" style="left:615.90px;top:332.00px;font-size:7.3px;color:#000;font-weight:bold;width:120.00px;text-align:center;-webkit-text-stroke:0.35px #000;">9</div>
<div class="t n" style="left:411.70px;top:341.00px;font-size:7.3px;color:#000;font-weight:bold;-webkit-text-stroke:0.35px #000;">16</div>
<div class="t c" style="left:426.90px;top:341.00px;font-size:7.3px;color:#000;font-weight:bold;width:120.00px;text-align:center;-webkit-text-stroke:0.35px #000;transform:scaleX(1.02);transform-origin:center top;">Навои</div>
<div class="t n" style="left:500.40px;top:341.00px;font-size:7.3px;color:#000;font-weight:bold;width:120.00px;text-align:center;-webkit-text-stroke:0.35px #000;">8</div>
<div class="t n" style="left:555.30px;top:341.00px;font-size:7.3px;color:#000;font-weight:bold;width:120.00px;text-align:center;-webkit-text-stroke:0.35px #000;">0</div>
<div class="t n" style="left:615.90px;top:341.00px;font-size:7.3px;color:#000;font-weight:bold;width:120.00px;text-align:center;-webkit-text-stroke:0.35px #000;">8</div>
<div class="t n" style="left:411.70px;top:350.00px;font-size:7.3px;color:#000;font-weight:bold;-webkit-text-stroke:0.35px #000;">17</div>
<div class="t c" style="left:426.90px;top:350.00px;font-size:7.3px;color:#000;font-weight:bold;width:120.00px;text-align:center;-webkit-text-stroke:0.35px #000;transform:scaleX(1.02);transform-origin:center top;">Алтынсарина</div>
<div class="t n" style="left:500.40px;top:350.00px;font-size:7.3px;color:#000;font-weight:bold;width:120.00px;text-align:center;-webkit-text-stroke:0.35px #000;">7</div>
<div class="t n" style="left:555.30px;top:350.00px;font-size:7.3px;color:#000;font-weight:bold;width:120.00px;text-align:center;-webkit-text-stroke:0.35px #000;">0</div>
<div class="t n" style="left:615.90px;top:350.00px;font-size:7.3px;color:#000;font-weight:bold;width:120.00px;text-align:center;-webkit-text-stroke:0.35px #000;">9</div>
<div class="t n" style="left:411.70px;top:359.00px;font-size:7.3px;color:#000;font-weight:bold;-webkit-text-stroke:0.35px #000;">18</div>
<div class="t c" style="left:426.90px;top:359.00px;font-size:7.3px;color:#000;font-weight:bold;width:120.00px;text-align:center;-webkit-text-stroke:0.35px #000;transform:scaleX(1.02);transform-origin:center top;">Шаляпина</div>
<div class="t n" style="left:500.40px;top:359.00px;font-size:7.3px;color:#000;font-weight:bold;width:120.00px;text-align:center;-webkit-text-stroke:0.35px #000;">7</div>
<div class="t n" style="left:555.30px;top:359.00px;font-size:7.3px;color:#000;font-weight:bold;width:120.00px;text-align:center;-webkit-text-stroke:0.35px #000;">1</div>
<div class="t n" style="left:615.90px;top:359.00px;font-size:7.3px;color:#000;font-weight:bold;width:120.00px;text-align:center;-webkit-text-stroke:0.35px #000;">6</div>
<div class="t n" style="left:411.70px;top:369.00px;font-size:7.3px;color:#000;font-weight:bold;-webkit-text-stroke:0.35px #000;">19</div>
<div class="t c" style="left:426.90px;top:369.00px;font-size:7.3px;color:#000;font-weight:bold;width:120.00px;text-align:center;-webkit-text-stroke:0.35px #000;transform:scaleX(1.02);transform-origin:center top;">Сатпаева</div>
<div class="t n" style="left:500.40px;top:369.00px;font-size:7.3px;color:#000;font-weight:bold;width:120.00px;text-align:center;-webkit-text-stroke:0.35px #000;">6</div>
<div class="t n" style="left:555.30px;top:369.00px;font-size:7.3px;color:#000;font-weight:bold;width:120.00px;text-align:center;-webkit-text-stroke:0.35px #000;">0</div>
<div class="t n" style="left:615.90px;top:369.00px;font-size:7.3px;color:#000;font-weight:bold;width:120.00px;text-align:center;-webkit-text-stroke:0.35px #000;">7</div>
<div class="t n" style="left:411.70px;top:378.00px;font-size:7.3px;color:#000;font-weight:bold;-webkit-text-stroke:0.35px #000;">20</div>
<div class="t c" style="left:426.90px;top:378.00px;font-size:7.3px;color:#000;font-weight:bold;width:120.00px;text-align:center;-webkit-text-stroke:0.35px #000;transform:scaleX(1.02);transform-origin:center top;">Суюнбая</div>
<div class="t n" style="left:500.40px;top:378.00px;font-size:7.3px;color:#000;font-weight:bold;width:120.00px;text-align:center;-webkit-text-stroke:0.35px #000;">6</div>
<div class="t n" style="left:555.30px;top:378.00px;font-size:7.3px;color:#000;font-weight:bold;width:120.00px;text-align:center;-webkit-text-stroke:0.35px #000;">0</div>
<div class="t n" style="left:615.90px;top:378.00px;font-size:7.3px;color:#000;font-weight:bold;width:120.00px;text-align:center;-webkit-text-stroke:0.35px #000;">7</div>
<div class="t n" style="left:411.70px;top:387.00px;font-size:7.3px;color:#000;font-weight:bold;-webkit-text-stroke:0.35px #000;">21</div>
<div class="t c" style="left:426.90px;top:387.00px;font-size:7.3px;color:#000;font-weight:bold;width:120.00px;text-align:center;-webkit-text-stroke:0.35px #000;transform:scaleX(1.02);transform-origin:center top;">Тимирязева</div>
<div class="t n" style="left:500.40px;top:387.00px;font-size:7.3px;color:#000;font-weight:bold;width:120.00px;text-align:center;-webkit-text-stroke:0.35px #000;">6</div>
<div class="t n" style="left:555.30px;top:387.00px;font-size:7.3px;color:#000;font-weight:bold;width:120.00px;text-align:center;-webkit-text-stroke:0.35px #000;">0</div>
<div class="t n" style="left:615.90px;top:387.00px;font-size:7.3px;color:#000;font-weight:bold;width:120.00px;text-align:center;-webkit-text-stroke:0.35px #000;">7</div>
</body></html>
